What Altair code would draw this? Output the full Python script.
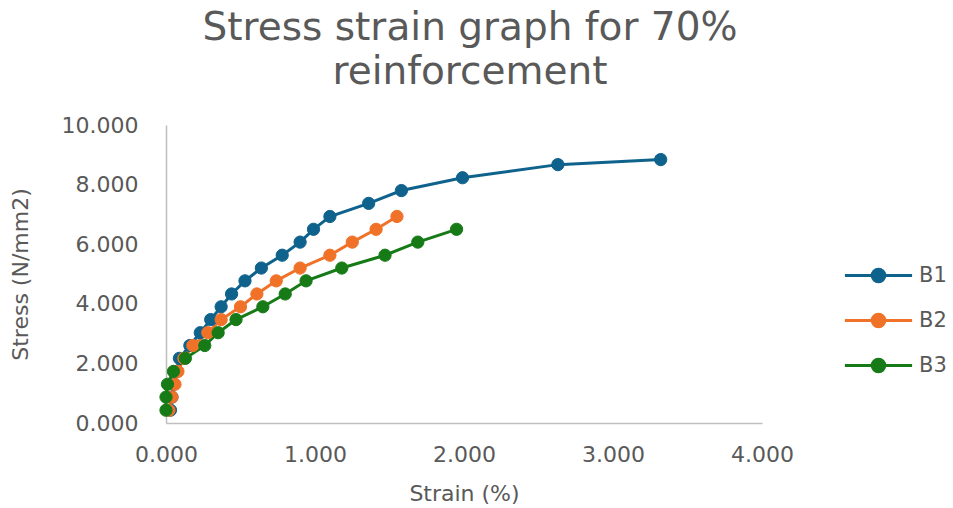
import altair as alt
import pandas as pd

# Stress (N/mm2) against strain (%) for three beams with 70% reinforcement
b1_strain = [0.03, 0.04, 0.05, 0.07, 0.09, 0.16, 0.23, 0.30, 0.37, 0.44, 0.53,
             0.64, 0.78, 0.90, 0.99, 1.10, 1.36, 1.58, 1.99, 2.63, 3.32]
b1_stress = [0.43, 0.87, 1.30, 1.73, 2.17, 2.60, 3.03, 3.47, 3.90, 4.33, 4.77,
             5.20, 5.63, 6.07, 6.50, 6.93, 7.37, 7.80, 8.23, 8.67, 8.84]

b2_strain = [0.02, 0.04, 0.06, 0.08, 0.12, 0.18, 0.28, 0.37, 0.50, 0.61, 0.74,
             0.90, 1.10, 1.25, 1.41, 1.55]
b2_stress = [0.43, 0.87, 1.30, 1.73, 2.17, 2.60, 3.03, 3.47, 3.90, 4.33, 4.77,
             5.20, 5.63, 6.07, 6.50, 6.93]

b3_strain = [0.00, 0.00, 0.01, 0.05, 0.13, 0.26, 0.35, 0.47, 0.65, 0.80, 0.94,
             1.18, 1.47, 1.69, 1.95]
b3_stress = [0.43, 0.87, 1.30, 1.73, 2.17, 2.60, 3.03, 3.47, 3.90, 4.33, 4.77,
             5.20, 5.63, 6.07, 6.50]

series_names = ["B1", "B2", "B3"]
series_colors = ["#0E628C", "#F07228", "#167A17"]
x_ticks = [0, 1, 2, 3, 4]
y_ticks = [0, 2, 4, 6, 8, 10]

rows = []
for name, xs, ys in zip(series_names,
                        [b1_strain, b2_strain, b3_strain],
                        [b1_stress, b2_stress, b3_stress]):
    for i, (xv, yv) in enumerate(zip(xs, ys)):
        rows.append({"series": name, "idx": i, "strain": xv, "stress": yv})
df = pd.DataFrame(rows)

FONT = "DejaVu Sans"
GREY = "#595959"
AXIS_GREY = "#BFBFBF"

x_enc = alt.X(
    "strain:Q",
    scale=alt.Scale(domain=[0, 4], nice=False),
    axis=alt.Axis(
        title="Strain (%)", values=x_ticks, format=".3f", grid=False,
        ticks=False, domainColor=AXIS_GREY, domainWidth=1.5,
        labelFlush=False, labelOverlap=False,
        labelFont=FONT, labelFontSize=22, labelColor=GREY, labelPadding=21,
        titleFont=FONT, titleFontSize=22, titleFontWeight="normal",
        titleColor=GREY, titleY=70, titleBaseline="middle",
    ),
)
y_enc = alt.Y(
    "stress:Q",
    scale=alt.Scale(domain=[0, 10], nice=False),
    axis=alt.Axis(
        title="Stress (N/mm2)", values=y_ticks, format=".3f", grid=False,
        ticks=False, domainColor=AXIS_GREY, domainWidth=1.5,
        labelFlush=False, labelOverlap=False,
        labelFont=FONT, labelFontSize=22, labelColor=GREY, labelPadding=28,
        titleFont=FONT, titleFontSize=22, titleFontWeight="normal",
        titleColor=GREY, titleX=-134, titleY=149,
    ),
)

color_scale = alt.Scale(domain=series_names, range=series_colors)

# legend glyph: a short line with a solid dot (concentric rings fill the dot)
glyph = ("M-1.6,0L1.6,0"
         "M-0.30,0A0.30,0.30,0,1,1,0.30,0A0.30,0.30,0,1,1,-0.30,0"
         "M-0.20,0A0.20,0.20,0,1,1,0.20,0A0.20,0.20,0,1,1,-0.20,0"
         "M-0.10,0A0.10,0.10,0,1,1,0.10,0A0.10,0.10,0,1,1,-0.10,0")
legend = alt.Legend(
    title=None, orient="none", legendX=690, legendY=128, padding=0,
    symbolType=glyph, symbolSize=1764, symbolStrokeWidth=3,
    symbolFillColor="transparent",
    labelFont=FONT, labelFontSize=21, labelColor=GREY, labelOffset=18,
    rowPadding=10,
)

lines = alt.Chart(df).mark_line(strokeWidth=3).encode(
    x=x_enc,
    y=y_enc,
    color=alt.Color("series:N", scale=color_scale, legend=legend),
    order=alt.Order("idx:Q"),
)

points = alt.Chart(df).mark_point(filled=True, size=150, opacity=1,
                                  strokeWidth=1).encode(
    x=x_enc,
    y=y_enc,
    fill=alt.Fill("series:N", scale=color_scale, legend=None),
    stroke=alt.Stroke("series:N", scale=color_scale, legend=None),
)

chart = alt.layer(lines, points).properties(
    width=596,
    height=298,
    title=alt.TitleParams(
        text=["Stress strain graph for 70%", "reinforcement"],
        font=FONT, fontSize=39, fontWeight="normal", color=GREY,
        anchor="middle", lineHeight=44, dx=6, offset=22,
    ),
    autosize=alt.AutoSizeParams(type="none"),
    padding={"left": 166, "top": 125, "right": 191, "bottom": 85},
).configure(
    background="white",
    view=alt.ViewConfig(stroke="transparent"),
)

chart.save("out.html", embed_options={"renderer": "svg", "actions": False})
